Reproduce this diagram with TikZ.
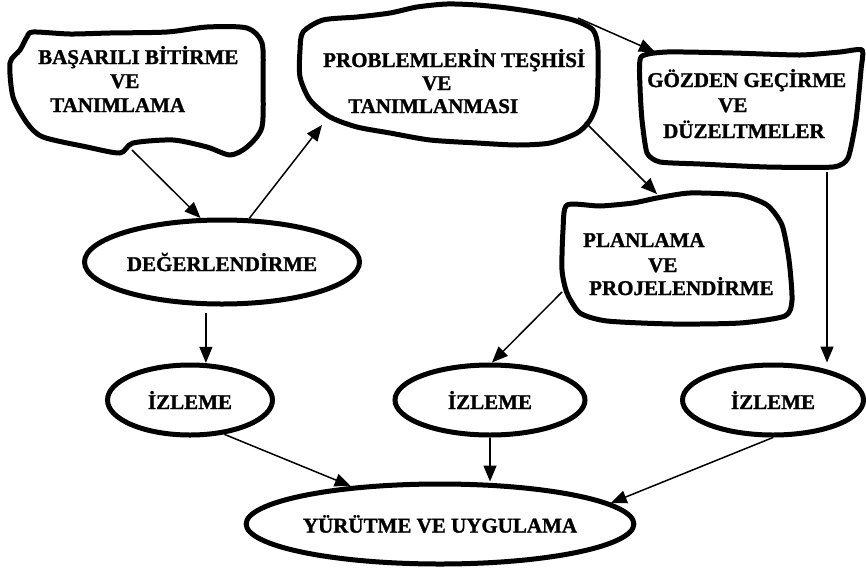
\documentclass[tikz,border=0pt]{standalone}
\usepackage{fontspec}
\setmainfont{Liberation Serif}[BoldFeatures={FakeBold=1.3}]
\usetikzlibrary{arrows.meta,shapes.geometric}
\tikzset{
  cloudline/.style={line width=5pt, line join=round},
  oval/.style={ellipse, draw, line width=5pt, inner sep=0pt, font=\fontsize{21}{24}\selectfont\bfseries},
  txt/.style={anchor=base west, inner sep=0pt, font=\fontsize{21}{24}\selectfont\bfseries},
  arr/.style={line width=1.5pt, -{Triangle[length=16pt,width=13pt]}}
}
\begin{document}
\begin{tikzpicture}[x=1pt,y=-1pt]
\useasboundingbox (0,0) rectangle (866,573);
% cloud 1
\draw[cloudline] plot[smooth cycle, tension=0.45] coordinates {
 (33,32) (70,34) (110,33) (167,32) (207,27) (247,28) (262,43) (263,80) (262,127) (247,147) (230,155)
 (207,147) (173,140) (133,143) (120,153) (87,147) (43,137) (27,123) (13,97) (10,63) (20,50) (27,37)};
% cloud 2
\draw[cloudline] plot[smooth cycle, tension=0.45] coordinates {
 (303,32) (323,20) (357,17) (390,13) (417,7) (447,4) (477,5) (507,8) (540,13) (573,20) (593,30)
 (598,50) (597,100) (590,120) (577,133) (550,143) (517,145) (477,143) (430,140) (390,133) (357,127)
 (330,117) (310,100) (300,77) (300,50)};
% cloud 3
\draw[cloudline] plot[smooth cycle, tension=0.35] coordinates {
 (641,57) (667,52) (733,53) (800,55) (840,52) (862,50) (861,70) (856,120) (848,158) (833,167)
 (767,167) (700,164) (660,162) (647,153) (642,120) (640,87)};
% cloud 4
\draw[cloudline] plot[smooth cycle, tension=0.4] coordinates {
 (567,205) (600,206) (633,203) (657,198) (690,193) (740,195) (767,205) (782,225) (789,260) (792,300)
 (785,316) (740,323) (673,324) (607,321) (580,313) (567,293) (562,270) (563,230)};
% cloud texts
\node[txt] (a1) at (38,64) {BAŞARILI BİTİRME};
\node[txt] (a2) at (110,88) {VE};
\node[txt] (a3) at (50,112) {TANIMLAMA};
\node[txt] (b1) at (323,67) {PROBLEMLERİN TEŞHİSİ};
\node[txt] (b2) at (422,90) {VE};
\node[txt] (b3) at (348,113) {TANIMLANMASI};
\node[txt] (g1) at (647,87) {GÖZDEN GEÇİRME};
\node[txt] (g2) at (718,112) {VE};
\node[txt] (g3) at (663,138) {DÜZELTMELER};
\node[txt] (p1) at (583,247) {PLANLAMA};
\node[txt] (p2) at (648,272) {VE};
\node[txt] (p3) at (589,295) {PROJELENDİRME};
% ellipses
\node[oval, minimum width=275pt, minimum height=84pt] (deg) at (222,262) {DEĞERLENDİRME};
\node[oval, minimum width=165pt, minimum height=70pt] (izl1) at (190,400) {İZLEME};
\node[oval, minimum width=190pt, minimum height=70pt] (izl2) at (490,400) {İZLEME};
\node[oval, minimum width=181pt, minimum height=70pt] (izl3) at (773,400) {İZLEME};
\node[oval, minimum width=380pt, minimum height=80pt] (yur) at (440,524) {YÜRÜTME VE UYGULAMA};
% connector ends on clouds
\coordinate (c1s) at (132,150);
\coordinate (c2in) at (322,125);
\coordinate (c2a) at (578,18);
\coordinate (c2b) at (585,122);
\coordinate (c3in) at (655,52);
\coordinate (c3s) at (827,172);
\coordinate (c4in) at (657,194);
\coordinate (c4s) at (562,292);
% arrows
\draw[arr] (c1s) -- (deg.116);
\draw[arr] (deg.58) -- (c2in);
\draw[arr] (c2a) -- (c3in);
\draw[arr] (c2b) -- (c4in);
\draw[arr, shorten <=7pt] (deg.250) -- (deg.250 |- izl1.73);
\draw[arr] (c4s) -- (izl2.87);
\draw[arr] (c3s) -- (c3s |- izl3.north);
\draw[arr] (izl1.315) -- (yur.157);
\draw[arr] (izl2.south) -- (izl2.south |- yur.north);
\draw[arr] (izl3.south) -- (yur.7);
\end{tikzpicture}
\end{document}
